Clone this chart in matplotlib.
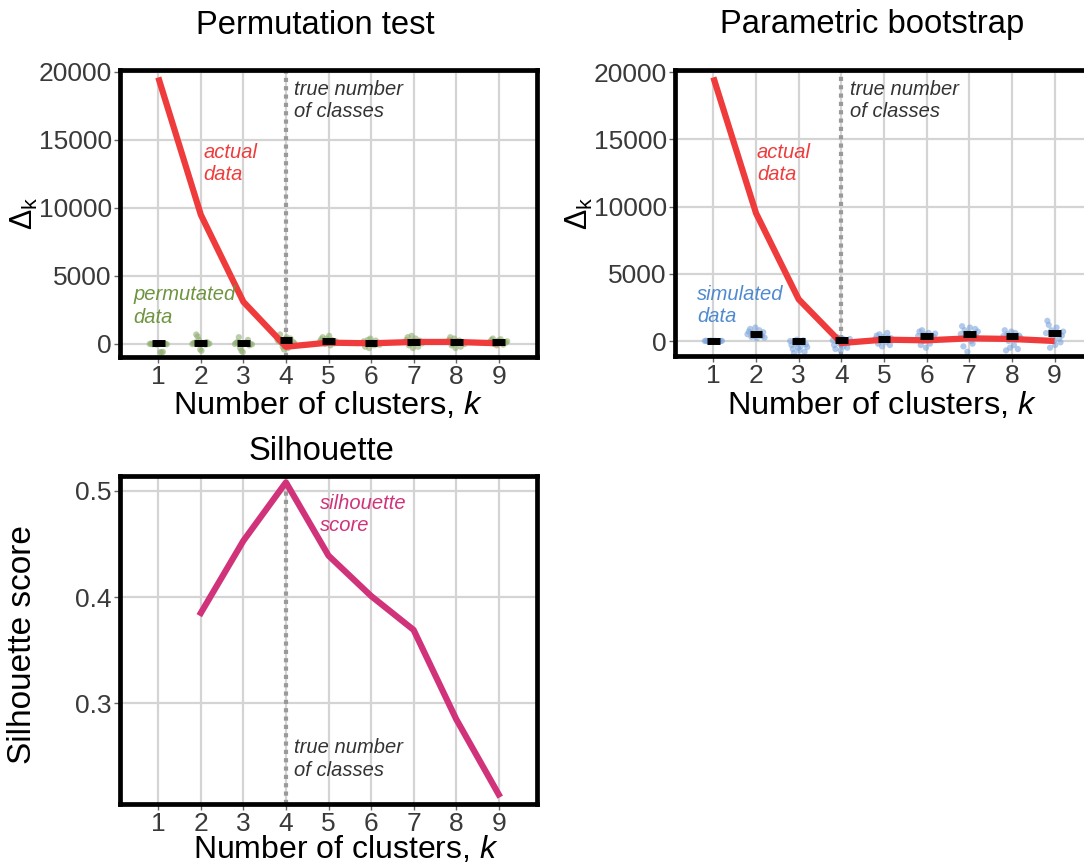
import numpy as np
import matplotlib
matplotlib.use("Agg")
import matplotlib.pyplot as plt

plt.rcParams['font.family'] = ['Liberation Sans', 'DejaVu Sans']
plt.rcParams['mathtext.fontset'] = 'custom'
plt.rcParams['mathtext.rm'] = 'Liberation Sans'
plt.rcParams['mathtext.it'] = 'Liberation Sans:italic'

# data
k = [1, 2, 3, 4, 5, 6, 7, 8, 9]
true_k = 4

perm_actual = [19600, 9500, 3100, -200, 100, 50, 150, 150, 50]
perm_means = [50, 100, 100, 300, 250, 100, 150, 150, 170]
perm_points = [
    [0, 30, -20, 10, 50, -40, 0, 20, -600, -620, -580, 40, 0, -20],
    [0, 60, 100, 700, 550, 300, -400, -500, 20, 80, -50, 150, 0, 30],
    [0, 80, 150, 500, -300, -500, -600, 60, 20, 100, 300, -100, 0, -30],
    [300, 200, 700, 100, -200, -400, 0, 500, -300, 250, 400, -100, 150, 50],
    [200, 350, 500, 100, 0, 400, 250, 600, -100, 300, 150, 50, 200, 100],
    [100, 200, -200, 0, 300, -300, 400, 150, 50, -100, 250, 0, 100, -50],
    [150, 300, 500, -100, 0, 600, -300, 200, 400, 100, -200, 250, 150, 50],
    [150, 300, 500, -100, 0, 400, -300, 200, 100, 250, -200, 50, 150, 0],
    [170, 300, 400, 0, 100, -100, 250, 200, 350, 50, -50, 150, 100, 200],
]

boot_actual = [19600, 9500, 3100, -150, 100, 50, 200, 150, 0]
boot_means = [0, 500, 0, 50, 170, 370, 520, 370, 590]
boot_points = [
    [0, 20, -20, 10, -10, 30, -30, 0, 15, -15, 5, -5, 0, 10],
    [500, 700, 900, 300, 600, 400, 1000, 200, 550, 800, 450, 350, 650, 250],
    [0, -300, -600, -900, -200, 100, -500, -700, -400, -100, 50, -800, -250, -450],
    [50, -300, -600, 300, 0, -200, -700, 200, -400, 100, -100, -500, -150, 150],
    [170, 400, -200, 500, 0, -400, 300, 100, -100, 600, 250, -300, 200, 50],
    [370, 700, -300, 800, 0, 500, -500, 200, 600, -200, 400, 100, 300, 550],
    [520, 1100, -400, 800, 200, -800, 600, 1000, 0, -200, 400, 900, 300, 700],
    [370, 800, -700, 500, 0, -500, 700, 200, -300, 600, 100, -600, 400, 250],
    [590, 1500, 1200, -500, 800, 300, 0, -300, 1000, 600, 200, -100, 400, 700],
]

sil_k = [2, 3, 4, 5, 6, 7, 8, 9]
sil_score = [0.385, 0.453, 0.508, 0.439, 0.401, 0.369, 0.285, 0.214]

RED = '#ef3b3b'
GREEN_PT = '#8fae6e'
GREEN_TXT = '#6f9440'
BLUE_PT = '#7ea6dc'
BLUE_TXT = '#4f8ad0'
MAGENTA = '#d1337a'
GRAY_TXT = '#333333'
ANN = 14.5

W, H = 1084, 866
fig = plt.figure(figsize=(W / 100, H / 100), dpi=100)


def px_axes(x0, y0, x1, y1):
    return fig.add_axes([x0 / W, 1 - y1 / H, (x1 - x0) / W, (y1 - y0) / H])


def style(ax):
    ax.set_xlim(0.1, 9.9)
    ax.set_xticks(k)
    ax.grid(True, color='#d4d4d4', lw=1.6)
    ax.set_axisbelow(True)
    for s in ax.spines.values():
        s.set_linewidth(3.4)
        s.set_color('black')
    ax.tick_params(labelsize=19, labelcolor='#3a3a3a', color='#666666',
                   length=4, width=1, pad=2)
    ax.tick_params(axis='x', pad=1.5)
    ax.axvline(true_k, color='#9a9a9a', ls=(0, (1, 1)), lw=3, zorder=1.5)


def note(ax, x, y, s, color):
    ax.text(x, y, s, transform=ax.get_xaxis_transform(), ha='left', va='top',
            style='italic', fontsize=ANN, color=color, linespacing=1.22)


def delta_panel(ax, points, means, actual, pt_color, ylim):
    style(ax)
    for kk, vals in zip(k, points):
        offs = np.linspace(-0.2, 0.2, len(vals))
        ax.scatter(kk + offs, vals, s=20, color=pt_color, alpha=0.6,
                   edgecolors='none', zorder=2)
    ax.plot(k, actual, color=RED, lw=4.5, zorder=3, solid_capstyle='butt')
    ax.hlines(means, np.array(k) - 0.15, np.array(k) + 0.15, color='black',
              lw=5, zorder=4)
    ax.set_ylim(*ylim)
    ax.set_yticks([0, 5000, 10000, 15000, 20000])
    ax.set_ylabel(r'$\Delta_{\mathrm{k}}$', fontsize=22)
    ax.yaxis.set_label_coords(-0.192, 0.5)
    note(ax, 4.2, 0.965, 'true number\nof classes', GRAY_TXT)


# Permutation test
ax1 = px_axes(120, 70, 537, 357)
delta_panel(ax1, perm_points, perm_means, perm_actual, GREEN_PT, (-956, 20147))
note(ax1, 2.06, 0.745, 'actual\ndata', RED)
note(ax1, 0.41, 0.25, 'permutated\ndata', GREEN_TXT)

# Parametric bootstrap
ax2 = px_axes(675, 70, 1093, 356)
delta_panel(ax2, boot_points, boot_means, boot_actual, BLUE_PT, (-1115, 20150))
note(ax2, 2.02, 0.745, 'actual\ndata', RED)
note(ax2, 0.62, 0.25, 'simulated\ndata', BLUE_TXT)

# Silhouette
ax3 = px_axes(120, 476, 537, 804)
style(ax3)
ax3.plot(sil_k, sil_score, color=MAGENTA, lw=4.5, zorder=3)
ax3.set_ylim(0.205, 0.514)
ax3.set_yticks([0.3, 0.4, 0.5])
ax3.set_ylabel('Silhouette score', fontsize=24)
ax3.yaxis.set_label_coords(-0.197, 0.486)
note(ax3, 4.8, 0.945, 'silhouette\nscore', MAGENTA)
note(ax3, 4.2, 0.2, 'true number\nof classes', GRAY_TXT)


# titles and x labels placed in figure pixels
def ftext(x, y, s, **kw):
    fig.text(x / W, 1 - y / H, s, ha='center', va='center', color='black', **kw)


ftext(315, 25, 'Permutation test', fontsize=23.6)
ftext(872, 25, 'Parametric bootstrap', fontsize=23.6)
ftext(322, 451, 'Silhouette', fontsize=23.6)
xlab = r'Number of clusters, $\mathit{k}$'
ftext(328, 406, xlab, fontsize=23.4)
ftext(882, 406, xlab, fontsize=23.4)
ftext(346, 850, xlab, fontsize=23)

fig.savefig('out.png', dpi=100)
